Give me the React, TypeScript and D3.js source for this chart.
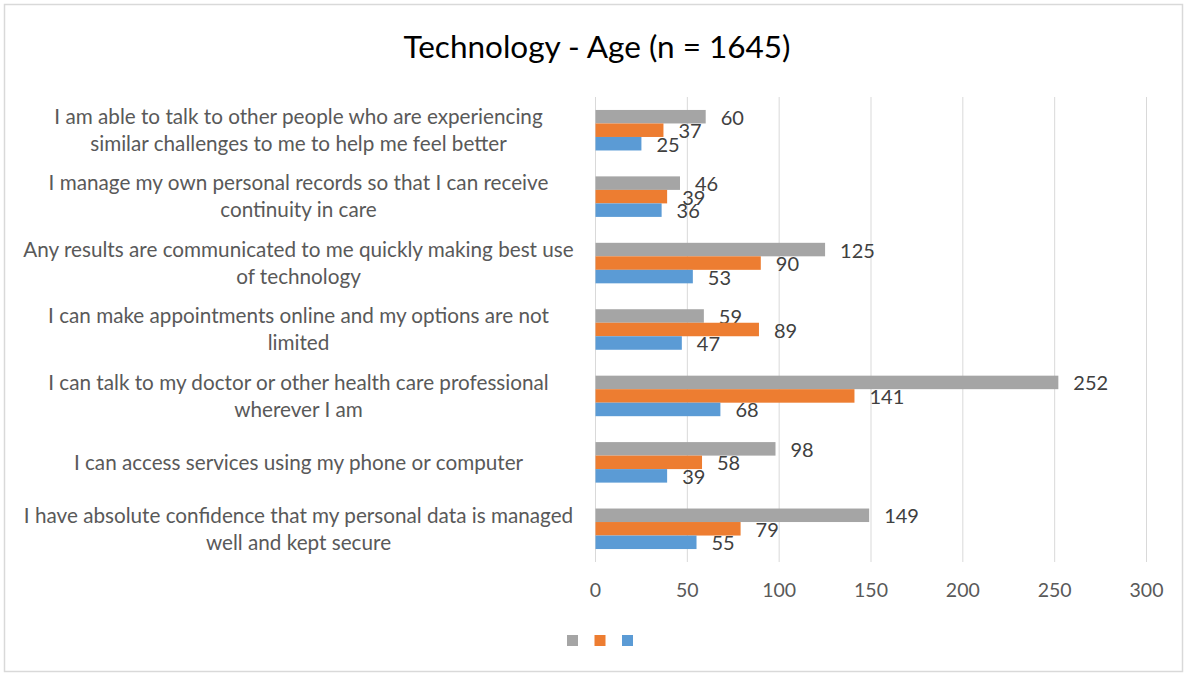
import React from "react";
import * as d3 from "d3";

const categories = [
  "I am able to talk to other people who are experiencing|similar challenges to me to help me feel better",
  "I manage my own personal records so that I can receive|continuity in care",
  "Any results are communicated to me quickly making best use|of technology",
  "I can make appointments online and my options are not|limited",
  "I can talk to my doctor or other health care professional|wherever I am",
  "I can access services using my phone or computer",
  "I have absolute confidence that my personal data is managed|well and kept secure",
];
const seriesGray = [60, 46, 125, 59, 252, 98, 149];
const seriesOrange = [37, 39, 90, 89, 141, 58, 79];
const seriesBlue = [25, 36, 53, 47, 68, 39, 55];
const seriesColors = ["#a5a5a5", "#ed7d31", "#5b9bd5"];
const xTicks = [0, 50, 100, 150, 200, 250, 300];
const title = "Technology - Age (n = 1645)";

const W = 1186;
const H = 675;
const FONT = "Lato, 'Noto Sans', sans-serif";

export default function App() {
  const series = [seriesGray, seriesOrange, seriesBlue];
  const x = d3.scaleLinear().domain([0, 300]).range([595.5, 1146.5]);
  const y = d3
    .scaleBand<string>()
    .domain(categories)
    .range([97, 562])
    .paddingInner(0.39)
    .paddingOuter(0.195);
  const inner = d3
    .scaleBand<number>()
    .domain([0, 1, 2])
    .range([0, y.bandwidth()]);

  return (
    <svg
      width={W}
      height={H}
      style={{ position: "absolute", left: 0, top: 0, background: "#fff" }}
      fontFamily={FONT}
    >
      <rect x={4.5} y={4.5} width={1178} height={667} fill="#fff" stroke="#d9d9d9" strokeWidth={1.5} />
      <text x={597} y={58} textAnchor="middle" fontSize={31.5} fill="#000">
        {title}
      </text>
      {xTicks.map((t) => (
        <g key={t}>
          <line x1={x(t)} x2={x(t)} y1={97} y2={562} stroke="#d9d9d9" strokeWidth={1} />
          <text x={x(t)} y={597} textAnchor="middle" fontSize={19.5} fill="#595959">
            {t}
          </text>
        </g>
      ))}
      {categories.map((c, ci) => {
        const lines = c.split("|");
        const cy = (y(c) as number) + y.bandwidth() / 2;
        const lh = 27;
        const y0 = cy - ((lines.length - 1) * lh) / 2;
        return (
          <g key={c}>
            {lines.map((ln, li) => (
              <text
                key={li}
                x={298.5}
                y={y0 + li * lh}
                dy="0.35em"
                textAnchor="middle"
                fontSize={20.7}
                fill="#595959"
              >
                {ln}
              </text>
            ))}
            {series.map((s, si) => {
              const by = (y(c) as number) + (inner(si) as number);
              const v = s[ci];
              return (
                <g key={si}>
                  <rect
                    x={x(0)}
                    y={by}
                    width={x(v) - x(0)}
                    height={inner.bandwidth()}
                    fill={seriesColors[si]}
                  />
                  <text
                    x={x(v) + 15}
                    y={by + inner.bandwidth() / 2 + 1}
                    dy="0.35em"
                    fontSize={20}
                    fill="#404040"
                  >
                    {v}
                  </text>
                </g>
              );
            })}
          </g>
        );
      })}
      {seriesColors.map((col, i) => (
        <rect key={col} x={567 + i * 27.5} y={635} width={11} height={11} fill={col} />
      ))}
    </svg>
  );
}
